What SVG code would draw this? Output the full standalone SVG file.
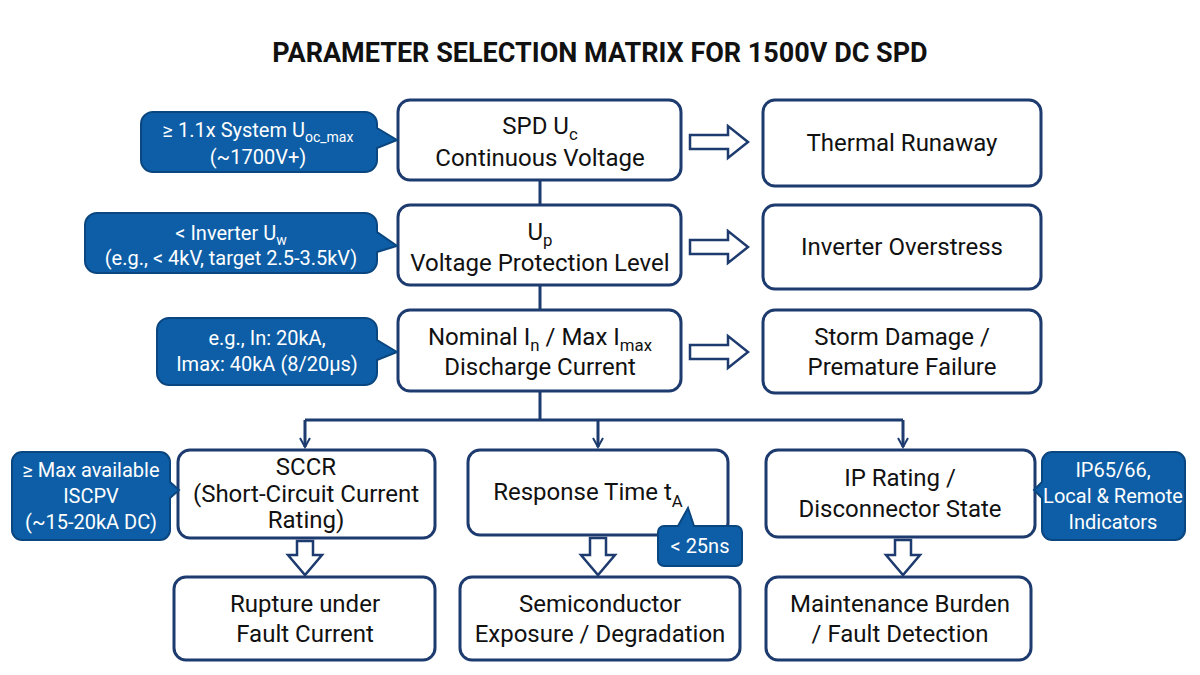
<svg xmlns="http://www.w3.org/2000/svg" width="1200" height="675" viewBox="0 0 1200 675">
<style>
.box{fill:#fff;stroke:#1d3b6e;stroke-width:3}
.call{fill:#0d5ea6;stroke:#0a4680;stroke-width:2}
.t{font-family:Roboto,"Liberation Sans",sans-serif;font-size:24px;fill:#111;text-anchor:middle}
.ct{font-family:Roboto,"Liberation Sans",sans-serif;font-size:20px;fill:#fff;text-anchor:middle}
.ln{stroke:#1d3b6e;stroke-width:3;fill:none}
.ha{fill:#fff;stroke:#1d3b6e;stroke-width:2.5;stroke-linejoin:miter}
.sub{font-size:70%}
</style>
<defs>
<marker id="ah" viewBox="0 0 12 12" refX="10" refY="6" markerWidth="12" markerHeight="12" markerUnits="userSpaceOnUse" orient="auto"><path d="M1 1L10 6L1 11" fill="none" stroke="#1d3b6e" stroke-width="2"/></marker>
</defs>
<rect width="1200" height="675" fill="#fff"/>
<text x="600" y="62" font-family="Roboto,'Liberation Sans',sans-serif" font-size="27" font-weight="bold" text-anchor="middle" fill="#111">PARAMETER SELECTION MATRIX FOR 1500V DC SPD</text>

<g id="connectors">
<path class="ln" d="M540 180V205M540 285V310M540 390V420M305 420H903"/>
<path class="ln" d="M305 420V447" marker-end="url(#ah)"/>
<path class="ln" d="M598 420V447" marker-end="url(#ah)"/>
<path class="ln" d="M903 420V447" marker-end="url(#ah)"/>
<path class="ha" d="M690 135H728V126L748 142L728 158V149H690Z"/>
<path class="ha" d="M690 240H728V231L748 247L728 263V254H690Z"/>
<path class="ha" d="M690 345H728V336L748 352L728 368V359H690Z"/>
<path class="ha" d="M297 541V555H288L305 575L322 555H313V541Z"/>
<path class="ha" d="M590 538V555H581L598 575L615 555H606V538Z"/>
<path class="ha" d="M895 540V555H886L903 575L920 555H911V540Z"/>
</g>

<g id="n-uc"><rect class="box" x="398" y="100" width="283" height="80" rx="12"/>
<text class="t" x="540" y="134">SPD U<tspan class="sub" dy="6">c</tspan></text><text class="t" x="540" y="166">Continuous Voltage</text></g>
<g id="n-up"><rect class="box" x="398" y="205" width="283" height="80" rx="12"/>
<text class="t" x="540" y="240">U<tspan class="sub" dy="6">p</tspan></text><text class="t" x="540" y="271">Voltage Protection Level</text></g>
<g id="n-in"><rect class="box" x="398" y="310" width="283" height="81" rx="12"/>
<text class="t" x="540" y="345">Nominal I<tspan class="sub" dy="6">n</tspan><tspan dy="-6"> / Max I</tspan><tspan class="sub" dy="6">max</tspan></text><text class="t" x="540" y="375">Discharge Current</text></g>

<g id="n-thermal"><rect class="box" x="763" y="100" width="278" height="86" rx="12"/><text class="t" x="902" y="151">Thermal Runaway</text></g>
<g id="n-inv"><rect class="box" x="763" y="205" width="278" height="84" rx="12"/><text class="t" x="902" y="255">Inverter Overstress</text></g>
<g id="n-storm"><rect class="box" x="763" y="310" width="278" height="83" rx="12"/><text class="t" x="902" y="345">Storm Damage /</text><text class="t" x="902" y="375">Premature Failure</text></g>

<g id="c-uc"><path class="call" d="M153 112H365A12 12 0 0 1 377 124V128L397 140L377 148V160A12 12 0 0 1 365 172H153A12 12 0 0 1 141 160V124A12 12 0 0 1 153 112Z"/>
<text class="ct" x="258" y="137">≥ 1.1x System U<tspan class="sub" dy="5">oc_max</tspan></text><text class="ct" x="258" y="164">(~1700V+)</text></g>
<g id="c-up"><path class="call" d="M97 213H365A12 12 0 0 1 377 225V232L397 246L377 252V261A12 12 0 0 1 365 273H97A12 12 0 0 1 85 261V225A12 12 0 0 1 97 213Z"/>
<text class="ct" x="231" y="240">&lt; Inverter U<tspan class="sub" dy="5">w</tspan></text><text class="ct" x="231" y="265">(e.g., &lt; 4kV, target 2.5-3.5kV)</text></g>
<g id="c-in"><path class="call" d="M169 318H365A12 12 0 0 1 377 330V340L397 352L377 360V373A12 12 0 0 1 365 385H169A12 12 0 0 1 157 373V330A12 12 0 0 1 169 318Z"/>
<text class="ct" x="267" y="345">e.g., In: 20kA,</text><text class="ct" x="267" y="371">Imax: 40kA (8/20µs)</text></g>

<g id="n-sccr"><rect class="box" x="178" y="450" width="257" height="88" rx="12"/>
<text class="t" x="306" y="475" font-size="22">SCCR</text><text class="t" x="306" y="502" font-size="19">(Short-Circuit Current</text><text class="t" x="306" y="528" font-size="19">Rating)</text></g>
<g id="n-resp"><rect class="box" x="468" y="450" width="260" height="85" rx="12"/>
<text class="t" x="588" y="500">Response Time t<tspan class="sub" dy="7">A</tspan></text></g>
<g id="n-ip"><rect class="box" x="766" y="450" width="269" height="87" rx="12"/>
<text class="t" x="900" y="486">IP Rating /</text><text class="t" x="900" y="517">Disconnector State</text></g>

<g id="c-sccr"><path class="call" d="M22 452H160A10 10 0 0 1 170 462V482L179 490L170 498V530A10 10 0 0 1 160 540H22A10 10 0 0 1 12 530V462A10 10 0 0 1 22 452Z"/>
<text class="ct" x="91" y="477" font-size="18">≥ Max available</text><text class="ct" x="91" y="503" font-size="18">ISCPV</text><text class="ct" x="91" y="529" font-size="18">(~15-20kA DC)</text></g>
<g id="c-ip"><path class="call" d="M1052 452H1175A10 10 0 0 1 1185 462V530A10 10 0 0 1 1175 540H1052A10 10 0 0 1 1042 530V498L1034 490L1042 482V462A10 10 0 0 1 1052 452Z"/>
<text class="ct" x="1113" y="477" font-size="18">IP65/66,</text><text class="ct" x="1113" y="503" font-size="18">Local &amp; Remote</text><text class="ct" x="1113" y="529" font-size="18">Indicators</text></g>
<g id="c-ta"><path class="call" d="M664 526H678L688 508L694 526H736A6 6 0 0 1 742 532V560A6 6 0 0 1 736 566H664A6 6 0 0 1 658 560V532A6 6 0 0 1 664 526Z"/>
<text class="ct" x="700" y="553" font-size="18">&lt; 25ns</text></g>

<g id="n-rupture"><rect class="box" x="174" y="577" width="261" height="83" rx="12"/><text class="t" x="305" y="612">Rupture under</text><text class="t" x="305" y="642">Fault Current</text></g>
<g id="n-semi"><rect class="box" x="460" y="577" width="280" height="83" rx="12"/><text class="t" x="600" y="612">Semiconductor</text><text class="t" x="600" y="642">Exposure / Degradation</text></g>
<g id="n-maint"><rect class="box" x="766" y="577" width="265" height="83" rx="12"/><text class="t" x="900" y="612">Maintenance Burden</text><text class="t" x="900" y="642">/ Fault Detection</text></g>
</svg>
